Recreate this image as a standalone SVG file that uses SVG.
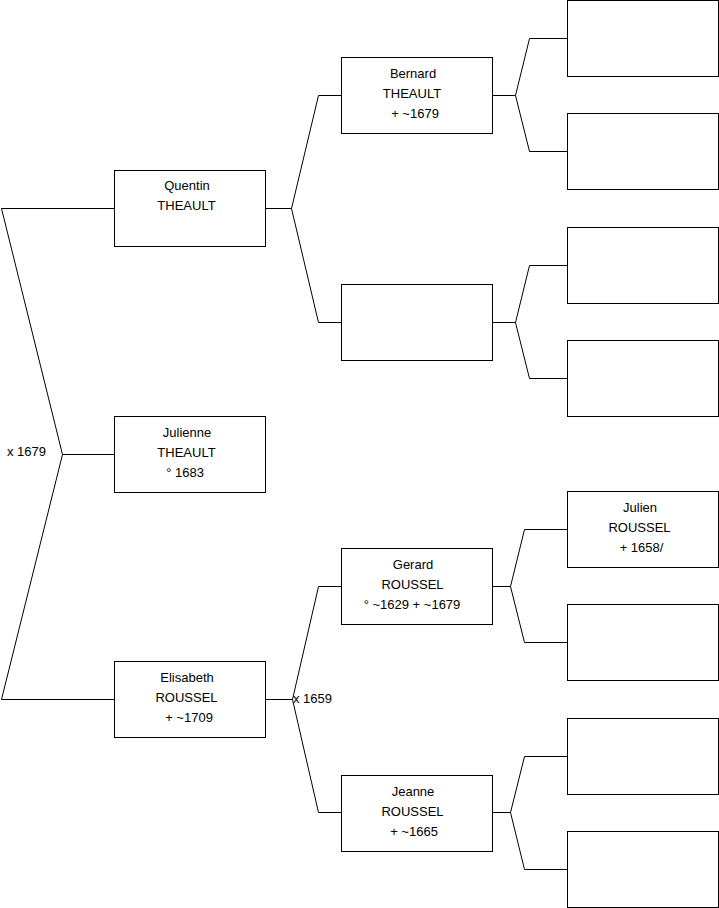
<svg xmlns="http://www.w3.org/2000/svg" width="719" height="908" viewBox="0 0 719 908">
<style>
.box{fill:#fff;stroke:#000;stroke-width:1}
.ln{fill:none;stroke:#000;stroke-width:1}
text{font-family:"Liberation Sans",Arial,sans-serif;font-size:13px;fill:#000}
.c{text-anchor:middle}
</style>
<rect width="719" height="908" fill="#fff"/>
<g id="connectors">
<path class="ln" d="M114,208.5 H1.5 L62.5,454.5 L1.5,699.5 H114 M62.5,454.5 H114"/>
<path class="ln" d="M265,208.5 H291.5 L318.5,95.5 H341 M291.5,208.5 L318.5,322.5 H341"/>
<path class="ln" d="M265,699.5 H292.5 L318.5,586.5 H341 M292.5,699.5 L318.5,812.5 H341"/>
<path class="ln" d="M492,95.5 H515.5 L529.5,38.5 H567 M515.5,95.5 L529.5,151.5 H567"/>
<path class="ln" d="M492,322.5 H515.5 L529.5,265.5 H567 M515.5,322.5 L529.5,378.5 H567"/>
<path class="ln" d="M492,586.5 H510.5 L524.5,529.5 H567 M510.5,586.5 L524.5,642.5 H567"/>
<path class="ln" d="M492,812.5 H510.5 L524.5,756.5 H567 M510.5,812.5 L524.5,869.5 H567"/>
<text x="7" y="456">x 1679</text>
<text x="293" y="703">x 1659</text>
</g>
<g id="quentin"><rect class="box" x="114.5" y="170.5" width="151" height="76"/><text class="c" x="187" y="190">Quentin</text><text class="c" x="186.5" y="210">THEAULT</text></g>
<g id="julienne"><rect class="box" x="114.5" y="416.5" width="151" height="76"/><text class="c" x="187" y="437">Julienne</text><text class="c" x="186.5" y="457">THEAULT</text><text class="c" x="185" y="477">° 1683</text></g>
<g id="elisabeth"><rect class="box" x="114.5" y="661.5" width="151" height="76"/><text class="c" x="187" y="682">Elisabeth</text><text class="c" x="186.5" y="702">ROUSSEL</text><text class="c" x="189" y="722">+ ~1709</text></g>
<g id="bernard"><rect class="box" x="341.5" y="57.5" width="151" height="76"/><text class="c" x="413" y="78">Bernard</text><text class="c" x="412" y="98">THEAULT</text><text class="c" x="415" y="118">+ ~1679</text></g>
<g id="unknown1"><rect class="box" x="341.5" y="284.5" width="151" height="76"/></g>
<g id="gerard"><rect class="box" x="341.5" y="548.5" width="151" height="76"/><text class="c" x="413" y="569">Gerard</text><text class="c" x="412.5" y="589">ROUSSEL</text><text class="c" x="412" y="609">° ~1629 + ~1679</text></g>
<g id="jeanne"><rect class="box" x="341.5" y="775.5" width="151" height="76"/><text class="c" x="413" y="796">Jeanne</text><text class="c" x="412.5" y="816">ROUSSEL</text><text class="c" x="414" y="836">+ ~1665</text></g>
<g id="ggp1"><rect class="box" x="567.5" y="0.5" width="151" height="76"/></g>
<g id="ggp2"><rect class="box" x="567.5" y="113.5" width="151" height="76"/></g>
<g id="ggp3"><rect class="box" x="567.5" y="227.5" width="151" height="76"/></g>
<g id="ggp4"><rect class="box" x="567.5" y="340.5" width="151" height="76"/></g>
<g id="julien"><rect class="box" x="567.5" y="491.5" width="151" height="76"/><text class="c" x="640" y="512">Julien</text><text class="c" x="639.5" y="532">ROUSSEL</text><text class="c" x="641.5" y="552">+ 1658/</text></g>
<g id="ggp6"><rect class="box" x="567.5" y="604.5" width="151" height="76"/></g>
<g id="ggp7"><rect class="box" x="567.5" y="718.5" width="151" height="76"/></g>
<g id="ggp8"><rect class="box" x="567.5" y="831.5" width="151" height="76"/></g>
</svg>
